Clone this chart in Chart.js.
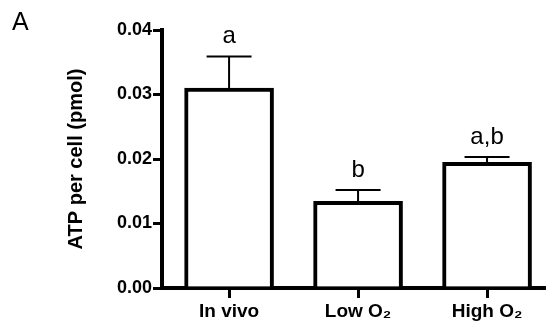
<!DOCTYPE html>
<html><head><meta charset="utf-8">
<script src="https://cdn.jsdelivr.net/npm/chart.js@4"></script>
<style>html,body{margin:0;padding:0;background:#fff;overflow:hidden}#wrap{width:546px;height:331px;position:relative}</style>
</head><body><div id="wrap"><canvas id="c" width="546" height="331"></canvas></div>
<script>
const categories = ['In vivo', 'Low O\u2082', 'High O\u2082'];
const atpMean = [0.0310, 0.01345, 0.0195];
const atpUpper = [0.0359, 0.0152, 0.0203];
const sigLetters = ['a', 'b', 'a,b'];
const yTicks = [0, 0.01, 0.02, 0.03, 0.04];

const FONT = '"Liberation Sans", Arial, sans-serif';

const overlay = {
  id: 'overlay',
  afterDatasetsDraw(chart) {
    const ctx = chart.ctx;
    const xs = chart.scales.x, ys = chart.scales.y;
    ctx.save();
    ctx.strokeStyle = '#000';
    ctx.fillStyle = '#000';
    for (let i = 0; i < categories.length; i++) {
      const x = xs.getPixelForValue(i);
      const yTop = ys.getPixelForValue(atpMean[i]);
      const yErr = ys.getPixelForValue(atpUpper[i]);
      ctx.lineWidth = 2;
      ctx.beginPath();
      ctx.moveTo(x, yTop + 1);
      ctx.lineTo(x, yErr);
      ctx.moveTo(x - 22.5, yErr);
      ctx.lineTo(x + 22.5, yErr);
      ctx.stroke();
      ctx.font = '24px ' + FONT;
      ctx.textAlign = 'center';
      ctx.textBaseline = 'alphabetic';
      ctx.fillText(sigLetters[i], x, yErr - 13);
    }
    ctx.font = '25px ' + FONT;
    ctx.textAlign = 'left';
    ctx.fillText('A', 12, 30);
    ctx.restore();
  }
};

new Chart(document.getElementById('c'), {
  type: 'bar',
  data: {
    datasets: [{
      data: categories.map((c, i) => ({ x: i, y: atpMean[i] })),
      backgroundColor: '#fff',
      borderColor: '#000',
      borderWidth: 4,
      barThickness: 89
    }]
  },
  options: {
    responsive: false,
    animation: false,
    events: [],
    layout: { padding: { top: 30, right: 0, bottom: 0, left: 0 } },
    plugins: { legend: { display: false }, tooltip: { enabled: false } },
    scales: {
      x: {
        type: 'linear',
        offset: false,
        min: -0.52,
        max: 2.457,
        afterBuildTicks: s => { s.ticks = categories.map((c, i) => ({ value: i })); },
        afterFit: s => { s.height = 43; },
        ticks: {
          callback: v => categories[v],
          color: '#000',
          font: { family: FONT, size: 19, weight: 'bold' },
          padding: 2,
          maxRotation: 0
        },
        grid: { offset: false, drawOnChartArea: false, drawTicks: true, tickLength: 10, lineWidth: 3, color: '#000' },
        border: { display: true, width: 4, color: '#000' }
      },
      y: {
        min: 0,
        max: 0.04,
        afterBuildTicks: s => { s.ticks = yTicks.map(v => ({ value: v })); },
        afterFit: s => { s.width = 162; },
        ticks: {
          callback: v => v.toFixed(2),
          color: '#000',
          font: { family: FONT, size: 18, weight: 'bold' },
          padding: 1
        },
        grid: { drawOnChartArea: false, drawTicks: true, tickLength: 9, lineWidth: 3, color: '#000' },
        border: { display: true, width: 4, color: '#000' },
        title: {
          display: true,
          text: 'ATP per cell (pmol)',
          color: '#000',
          font: { family: FONT, size: 20, weight: 'bold' },
          padding: { top: 64, bottom: 0 }
        }
      }
    }
  },
  plugins: [overlay]
});
</script>
</body></html>
